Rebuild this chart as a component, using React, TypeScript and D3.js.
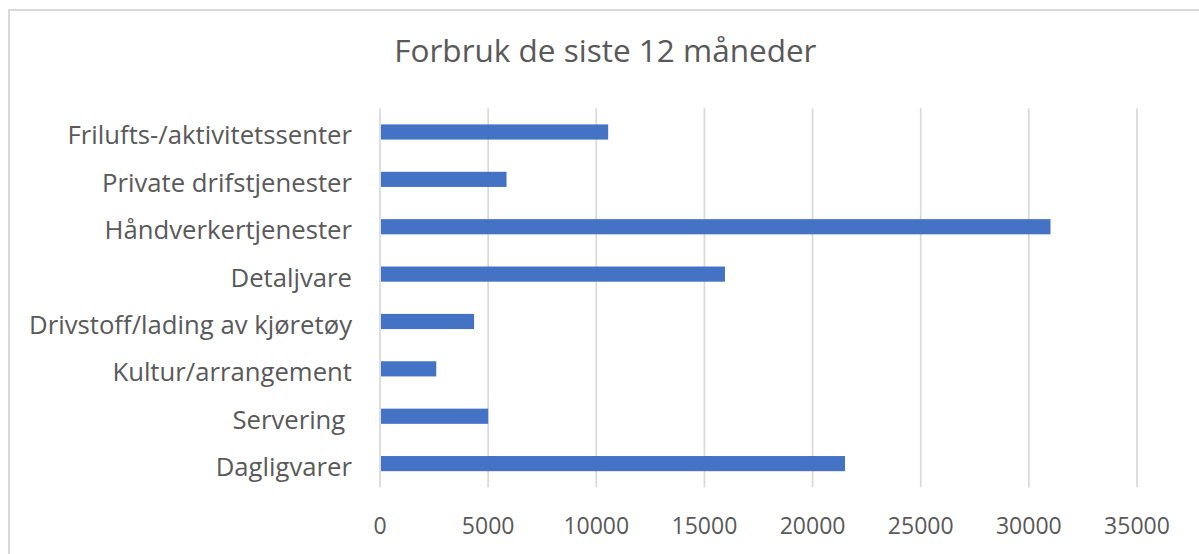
import React from "react";
import * as d3 from "d3";

const categories = [
  "Frilufts-/aktivitetssenter",
  "Private drifstjenester",
  "Håndverkertjenester",
  "Detaljvare",
  "Drivstoff/lading av kjøretøy",
  "Kultur/arrangement",
  "Servering ",
  "Dagligvarer",
];
const values = [10550, 5850, 31000, 15950, 4350, 2600, 5000, 21500];
const ticks = [0, 5000, 10000, 15000, 20000, 25000, 30000, 35000];
const title = "Forbruk de siste 12 måneder";

export default function App() {
  const W = 1199, H = 554;
  const left = 380, right = 1137, top = 108.3, bottom = 487.3;
  const x = d3.scaleLinear().domain([0, 35000]).range([left, right]);
  const y = d3.scaleBand().domain(categories).range([top, bottom]).paddingInner(0.68).paddingOuter(0.34);
  const font = "'Open Sans', sans-serif";
  return (
    <svg width={W} height={H} style={{ position: "absolute", left: 0, top: 0 }}>
      <rect x={0} y={0} width={W} height={H} fill="#fff" />
      <rect x={9} y={10} width={W + 20} height={H + 20} fill="none" stroke="#d9d9d9" strokeWidth={2} />
      <text x={605.4} y={62.3} textAnchor="middle" fontFamily={font} fontSize={31.5} fill="#595959">{title}</text>
      {ticks.map((t) => (
        <line key={t} x1={x(t)} x2={x(t)} y1={top} y2={bottom} stroke="#d9d9d9" strokeWidth={1.7} />
      ))}
      {categories.map((c, i) => (
        <rect key={c} x={x(0) + 1} y={y(c)!} width={x(values[i]) - x(0) - 1} height={y.bandwidth()} fill="#4472c4" />
      ))}
      {categories.map((c) => (
        <text key={c} x={352} y={y(c)! + y.bandwidth() / 2 + 12.5} textAnchor="end" fontFamily={font} fontSize={25.7} fill="#595959" style={{ whiteSpace: "pre" }}>{c}</text>
      ))}
      {ticks.map((t) => (
        <text key={t} x={x(t)} y={534.3} textAnchor="middle" fontFamily={font} fontSize={23} fill="#595959">{t}</text>
      ))}
    </svg>
  );
}
